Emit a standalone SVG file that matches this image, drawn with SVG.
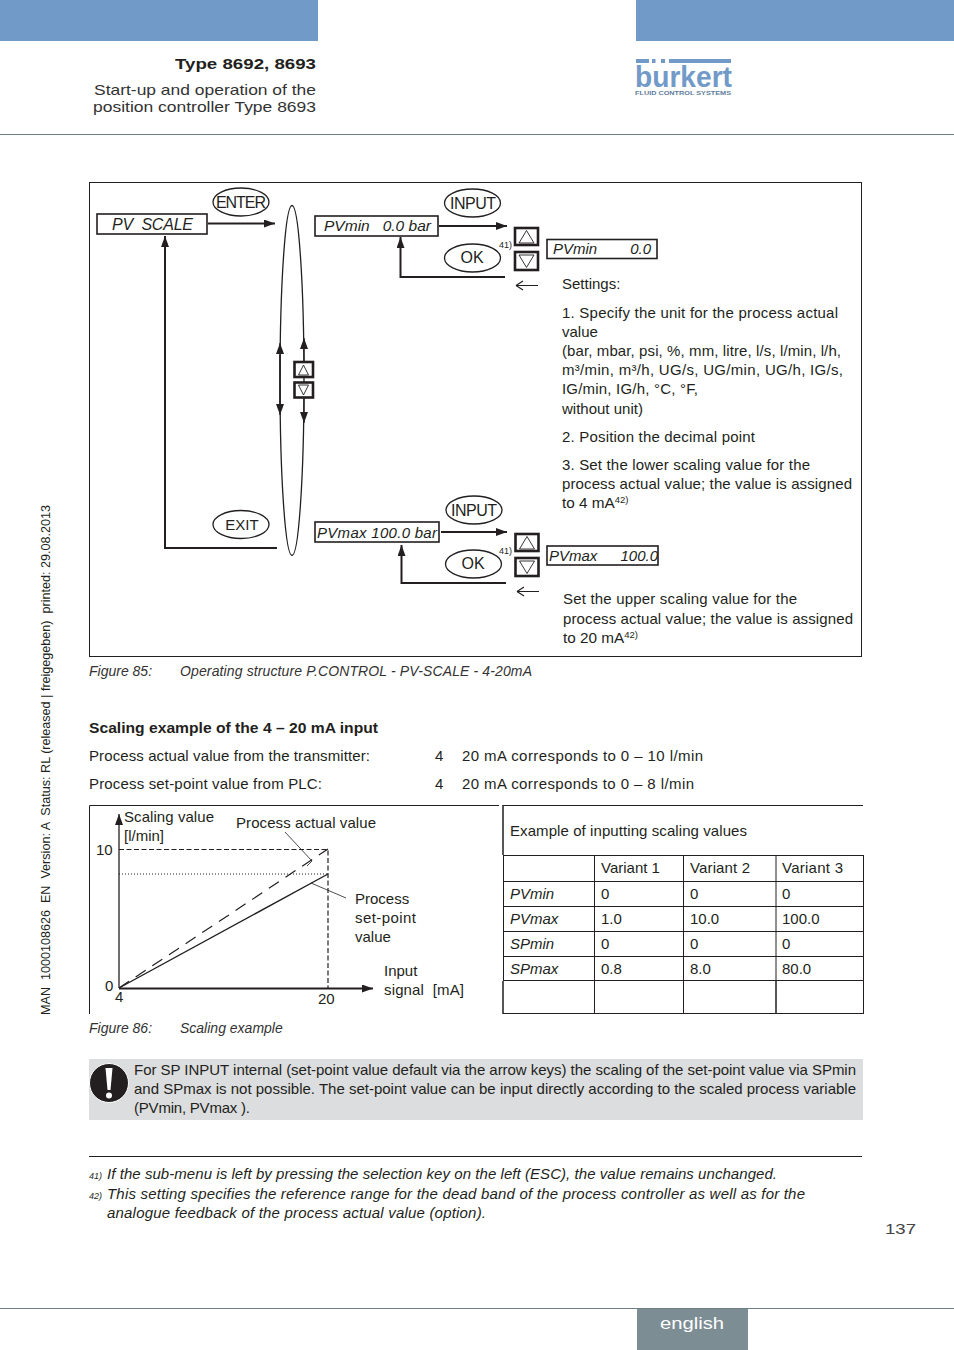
<svg xmlns="http://www.w3.org/2000/svg" width="954" height="1350" viewBox="0 0 954 1350">
<defs>
<marker id="ah" markerUnits="userSpaceOnUse" markerWidth="12" markerHeight="10" refX="11" refY="4" orient="auto"><path d="M0 0L11 4L0 8Z" fill="#231f20"/></marker>
</defs>
<style>
text{font-family:"Liberation Sans",Arial,sans-serif;fill:#231f20;font-size:15px}
.i{font-style:italic}
.lbl{font-size:16px;text-anchor:middle}
.fig{font-size:14px;font-style:italic;fill:#333}
.box{fill:#fff;stroke:#231f20;stroke-width:1.6}
.key{fill:#fff;stroke:#231f20;stroke-width:2.6}
.ov{fill:#fff;stroke:#231f20;stroke-width:1.3}
.w{fill:none;stroke:#231f20;stroke-width:2}
.t{fill:none;stroke:#231f20;stroke-width:1.2}
.tbl{stroke:#231f20;stroke-width:1;fill:none}
.tri{fill:#fff;stroke:#231f20;stroke-width:.9}
.sup{font-size:9.500px}
</style>
<g id="page-header">
<rect x="0" y="0" width="318" height="41" fill="#729ac8"/>
<rect x="636" y="0" width="318" height="41" fill="#729ac8"/>
<text x="175" y="69" font-weight="bold" style="font-size:15px" textLength="141" lengthAdjust="spacingAndGlyphs">Type 8692, 8693</text>
<text x="94" y="95" textLength="222" lengthAdjust="spacingAndGlyphs" style="fill:#333;font-size:15px">Start-up and operation of the</text>
<text x="93" y="112" textLength="223" lengthAdjust="spacingAndGlyphs" style="fill:#333;font-size:15px">position controller Type 8693</text>
<rect x="0" y="134" width="954" height="1" fill="#6e7f85"/>
</g>
<g id="logo" fill="#729ac8">
<rect x="636" y="59" width="13" height="4"/><rect x="652" y="59" width="3.500" height="4"/><rect x="661" y="59" width="4" height="4"/><rect x="669" y="59" width="62" height="4"/>
<text x="635" y="87" textLength="97" lengthAdjust="spacingAndGlyphs" font-weight="bold" style="font-size:30px;fill:#729ac8">burkert</text>
<text x="635" y="94.500" textLength="96" lengthAdjust="spacingAndGlyphs" font-weight="bold" style="font-size:5.500px;fill:#5d7c9c">FLUID CONTROL SYSTEMS</text>
</g>
<text id="side-note" transform="translate(50 1015) rotate(-90)" textLength="510" lengthAdjust="spacingAndGlyphs" xml:space="preserve" style="font-size:12px">MAN  1000108626  EN  Version: A  Status: RL (released | freigegeben)  printed: 29.08.2013</text>

<rect id="frame-85" x="89.500" y="182.500" width="772" height="474" fill="none" stroke="#231f20" stroke-width="1"/>

<g id="connectors">
<ellipse cx="292" cy="380.500" rx="12" ry="175" class="t" style="stroke-width:1.300"/>
<path class="w" d="M208 223.500H275" marker-end="url(#ah)"/>
<path class="w" d="M277 548H165V236" marker-end="url(#ah)"/>
<path class="t" d="M280 405V343" marker-end="url(#ah)"/>
<path class="t" d="M280 355V415" marker-end="url(#ah)"/>
<path class="t" d="M304 362V338" marker-end="url(#ah)"/>
<path class="t" d="M304 398V423" marker-end="url(#ah)"/>
<path class="w" d="M439 226H507" marker-end="url(#ah)"/>
<path class="w" d="M505 277H400.500V237" marker-end="url(#ah)"/>
<path class="w" d="M441 532H507" marker-end="url(#ah)"/>
<path class="w" d="M506 583H401.500V545" marker-end="url(#ah)"/>
<path class="t" d="M516 285.500H538M516 285.500L523 281M516 285.500L523 290"/>
<path class="t" d="M517 591.500H539M517 591.500L524 587M517 591.500L524 596"/>
</g>

<g id="pv-scale"><rect class="box" x="97" y="214" width="110" height="20"/><text class="i" x="112" y="230" style="font-size:16px" xml:space="preserve" textLength="81">PV  SCALE</text></g>
<g id="enter"><ellipse class="ov" cx="241" cy="202" rx="28" ry="14"/><text class="lbl" x="241" y="208" textLength="50">ENTER</text></g>
<g id="exit"><ellipse class="ov" cx="241" cy="524.500" rx="28" ry="14"/><text class="lbl" x="242" y="530" style="font-size:15px">EXIT</text></g>
<g id="key-up-mid"><rect class="key" x="294.500" y="362" width="18.500" height="15"/><path class="tri" d="M303.500 365L298.500 375H308.500Z"/></g>
<g id="key-down-mid"><rect class="key" x="294.500" y="382.500" width="18.500" height="15"/><path class="tri" d="M303.500 395L298.500 385H308.500Z"/></g>

<g id="pvmin-bar"><rect class="box" x="315" y="216" width="123" height="20"/><text class="i" x="324" y="231" style="font-size:15.500px" xml:space="preserve" textLength="107">PVmin   0.0 bar</text></g>
<g id="input-1"><ellipse class="ov" cx="472.500" cy="203" rx="28" ry="14"/><text class="lbl" x="473" y="209" textLength="46">INPUT</text></g>
<g id="ok-1"><ellipse class="ov" cx="472.500" cy="258" rx="28" ry="14"/><text class="lbl" x="472" y="263">OK</text></g>
<text x="499" y="248" style="font-size:9px">41)</text>
<g id="key-up-1"><rect class="key" x="515" y="228" width="23" height="17"/><path class="tri" d="M526.500 230.500L519 243H534Z"/></g>
<g id="key-down-1"><rect class="key" x="515" y="252" width="23" height="18"/><path class="tri" d="M526.500 267.500L519 255H534Z"/></g>
<g id="pvmin-val"><rect class="box" x="547" y="239.500" width="110" height="19"/><text class="i" x="553" y="254">PVmin</text><text class="i" x="651" y="254" text-anchor="end">0.0</text></g>

<g id="pvmax-bar"><rect class="box" x="315" y="522" width="124" height="20"/><text class="i" x="317" y="538" textLength="120">PVmax 100.0 bar</text></g>
<g id="input-2"><ellipse class="ov" cx="474" cy="510" rx="28" ry="14"/><text class="lbl" x="474" y="516" textLength="46">INPUT</text></g>
<g id="ok-2"><ellipse class="ov" cx="473.500" cy="564" rx="28" ry="14"/><text class="lbl" x="473" y="569">OK</text></g>
<text x="499" y="554" style="font-size:9px">41)</text>
<g id="key-up-2"><rect class="key" x="515.500" y="534" width="23" height="17"/><path class="tri" d="M527 536.500L519.500 549H534.500Z"/></g>
<g id="key-down-2"><rect class="key" x="515.500" y="558" width="23" height="18"/><path class="tri" d="M527 573.500L519.500 561H534.500Z"/></g>
<g id="pvmax-val"><rect class="box" x="547" y="546" width="111" height="19"/><text class="i" x="549" y="561">PVmax</text><text class="i" x="658" y="561" text-anchor="end">100.0</text></g>

<g id="settings-text">
<text x="562" y="289">Settings:</text>
<text x="562" y="318" textLength="276">1. Specify the unit for the process actual</text>
<text x="562" y="337">value</text>
<text x="562" y="356" textLength="279">(bar, mbar, psi, %, mm, litre, l/s, l/min, l/h,</text>
<text x="562" y="375" textLength="281">m³/min, m³/h, UG/s, UG/min, UG/h, IG/s,</text>
<text x="562" y="394" textLength="136">IG/min, IG/h, °C, °F,</text>
<text x="562" y="414">without unit)</text>
<text x="562" y="442" textLength="193">2. Position the decimal point</text>
<text x="562" y="470" textLength="248">3. Set the lower scaling value for the</text>
<text x="562" y="489" textLength="290">process actual value; the value is assigned</text>
<text x="562" y="508" style="font-size:15.300px">to 4 mA<tspan class="sup" dy="-5">42)</tspan></text>
<text x="563" y="604" textLength="234">Set the upper scaling value for the</text>
<text x="563" y="624" textLength="290">process actual value; the value is assigned</text>
<text x="563" y="643" style="font-size:15.300px">to 20 mA<tspan class="sup" dy="-5">42)</tspan></text>
</g>
<text class="fig" x="89" y="676">Figure 85:</text>
<text class="fig" x="180" y="676" textLength="352">Operating structure P.CONTROL - PV-SCALE - 4-20mA</text>

<text x="89" y="733" textLength="289" lengthAdjust="spacingAndGlyphs" style="font-weight:bold">Scaling example of the 4 – 20 mA input</text>
<text x="89" y="761" textLength="281">Process actual value from the transmitter:</text>
<text x="435" y="761">4</text>
<text x="462" y="761" textLength="241">20 mA corresponds to 0 – 10 l/min</text>
<text x="89" y="789" textLength="233">Process set-point value from PLC:</text>
<text x="435" y="789">4</text>
<text x="462" y="789" textLength="232">20 mA corresponds to 0 – 8 l/min</text>

<g id="chart">
<path class="t" style="stroke-width:1" d="M89.500 1014V805.500H499"/>
<path class="t" stroke-dasharray="5 2.500" d="M119 849.500H328V988"/>
<path class="t" stroke-dasharray="1 2" style="stroke-width:1" d="M119 874H328"/>
<path class="t" d="M119 988L328 874" style="stroke-width:1.400"/>
<path class="t" stroke-dasharray="12 8" d="M119 988L328 849"/>
<path class="t" style="stroke-width:.8" d="M285 832L312 861L307 866M311 883L346 898"/>
<path class="w" d="M119 988V814" marker-end="url(#ah)" style="stroke-width:1.300"/>
<path class="w" d="M119 988.500H373" marker-end="url(#ah)"/>
<text x="124" y="822" textLength="90">Scaling value</text>
<text x="124" y="841">[l/min]</text>
<text x="236" y="828" textLength="140">Process actual value</text>
<text x="96" y="855">10</text>
<text x="105" y="991">0</text>
<text x="115" y="1002">4</text>
<text x="318" y="1004">20</text>
<text x="355" y="904">Process</text>
<text x="355" y="923" textLength="61">set-point</text>
<text x="355" y="942">value</text>
<text x="384" y="976">Input</text>
<text x="384" y="995" xml:space="preserve" textLength="80">signal  [mA]</text>
</g>

<g id="table">
<path class="tbl" d="M503 805.500H863M503 855.500H863M503 881.500H863M503 906.500H863M503 931.500H863M503 956.500H863M503 980.500H863M503 1013.500H863.500M863.500 855V1014M594.500 855V1014M683.500 855V1014"/>
<path class="tbl" style="stroke-width:1.500" d="M503 805V855M503 981V1014M776 981V1014"/>
<path class="tbl" d="M503.500 855V981M776 855V981"/>
<text x="510" y="836" textLength="237">Example of inputting scaling values</text>
<text x="601" y="873">Variant 1</text><text x="690" y="873" textLength="60">Variant 2</text><text x="782" y="873" textLength="61">Variant 3</text>
<text class="i" x="510" y="899">PVmin</text><text x="601" y="899">0</text><text x="690" y="899">0</text><text x="782" y="899">0</text>
<text class="i" x="510" y="924">PVmax</text><text x="601" y="924">1.0</text><text x="690" y="924">10.0</text><text x="782" y="924">100.0</text>
<text class="i" x="510" y="949">SPmin</text><text x="601" y="949">0</text><text x="690" y="949">0</text><text x="782" y="949">0</text>
<text class="i" x="510" y="974">SPmax</text><text x="601" y="974">0.8</text><text x="690" y="974">8.0</text><text x="782" y="974">80.0</text>
</g>
<text class="fig" x="89" y="1033">Figure 86:</text>
<text class="fig" x="180" y="1033">Scaling example</text>

<g id="note">
<rect x="89" y="1059" width="774" height="61" fill="#dcddde"/>
<circle cx="109" cy="1083" r="19.500" fill="#231f20" stroke="#fff" stroke-width="1"/>
<path d="M105.500 1068H112.500L110.500 1090H107.500Z" fill="#fff"/><circle cx="109" cy="1095.500" r="3" fill="#fff"/>
<text x="134" y="1075" textLength="722">For SP INPUT internal (set-point value default via the arrow keys) the scaling of the set-point value via SPmin</text>
<text x="134" y="1094" textLength="722">and SPmax is not possible. The set-point value can be input directly according to the scaled process variable</text>
<text x="134" y="1113" textLength="116">(PVmin, PVmax ).</text>
</g>

<g id="footnotes">
<rect x="89" y="1156" width="773" height="1" fill="#231f20"/>
<text class="i" x="89" y="1179" style="font-size:9px">41)</text>
<text class="i" x="107" y="1179" textLength="670">If the sub-menu is left by pressing the selection key on the left (ESC), the value remains unchanged.</text>
<text class="i" x="89" y="1199" style="font-size:9px">42)</text>
<text class="i" x="107" y="1199" textLength="698">This setting specifies the reference range for the dead band of the process controller as well as for the</text>
<text class="i" x="107" y="1218" textLength="379">analogue feedback of the process actual value (option).</text>
</g>
<g id="page-footer">
<text x="885" y="1234" textLength="31" lengthAdjust="spacingAndGlyphs" style="fill:#444;font-size:15px">137</text>
<rect x="0" y="1308" width="954" height="1" fill="#6e7f85"/>
<rect x="637" y="1309" width="111" height="41" fill="#7c8d94"/>
<text x="660" y="1329" textLength="64" lengthAdjust="spacingAndGlyphs" style="font-size:16px;fill:#fff">english</text>
</g>
</svg>
